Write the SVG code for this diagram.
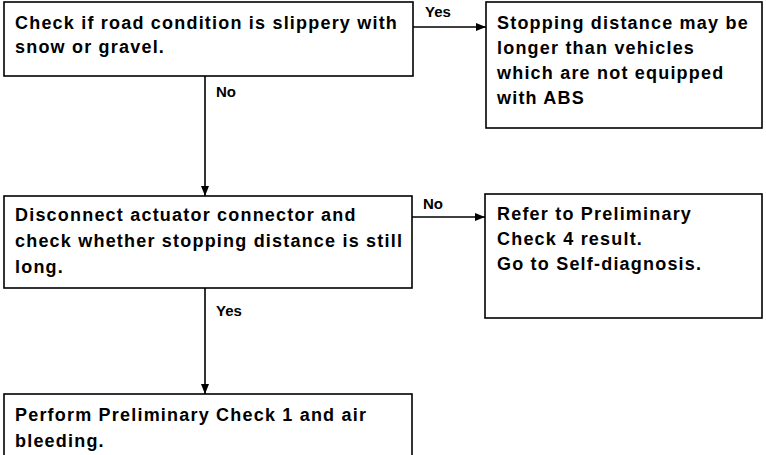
<svg xmlns="http://www.w3.org/2000/svg" width="766" height="455" viewBox="0 0 766 455">
<defs>
<marker id="arr" markerWidth="10" markerHeight="8" refX="10" refY="4" orient="auto" markerUnits="userSpaceOnUse">
<path d="M0,0 L10,4 L0,8 Z" fill="#000"/>
</marker>
<style>
.box{fill:#fff;stroke:#000;stroke-width:1.6}
.t{font-family:"Liberation Sans",Arial,sans-serif;font-weight:bold;font-size:18px;letter-spacing:1.2px;fill:#000}
.l{font-family:"Liberation Sans",Arial,sans-serif;font-weight:bold;font-size:15px;fill:#000}
.c{fill:none;stroke:#000;stroke-width:1.6}
</style>
</defs>
<rect width="766" height="455" fill="#fff"/>
<g id="connectors">
<line class="c" x1="413" y1="27" x2="486" y2="27" marker-end="url(#arr)"/>
<line class="c" x1="205" y1="76" x2="205" y2="196" marker-end="url(#arr)"/>
<line class="c" x1="412" y1="217" x2="485" y2="217" marker-end="url(#arr)"/>
<line class="c" x1="205" y1="288" x2="205" y2="394" marker-end="url(#arr)"/>
<text class="l" x="425" y="17">Yes</text>
<text class="l" x="216" y="97">No</text>
<text class="l" x="423" y="209">No</text>
<text class="l" x="216" y="316">Yes</text>
</g>
<g id="node1">
<rect class="box" x="4" y="2" width="409" height="74"/>
<text class="t" x="15" y="29">Check if road condition is slippery with</text>
<text class="t" x="15" y="53">snow or gravel.</text>
</g>
<g id="node2">
<rect class="box" x="486" y="2" width="276" height="126"/>
<text class="t" x="497" y="29">Stopping distance may be</text>
<text class="t" x="497" y="54">longer than vehicles</text>
<text class="t" x="497" y="79">which are not equipped</text>
<text class="t" x="497" y="104">with ABS</text>
</g>
<g id="node3">
<rect class="box" x="4" y="196" width="408" height="92"/>
<text class="t" x="15" y="221">Disconnect actuator connector and</text>
<text class="t" x="15" y="247">check whether stopping distance is still</text>
<text class="t" x="15" y="273">long.</text>
</g>
<g id="node4">
<rect class="box" x="485" y="194" width="277" height="124"/>
<text class="t" x="497" y="220">Refer to Preliminary</text>
<text class="t" x="497" y="245">Check 4 result.</text>
<text class="t" x="497" y="270">Go to Self-diagnosis.</text>
</g>
<g id="node5">
<rect class="box" x="4" y="394" width="408" height="70"/>
<text class="t" x="15" y="421">Perform Preliminary Check 1 and air</text>
<text class="t" x="15" y="447">bleeding.</text>
</g>
</svg>
